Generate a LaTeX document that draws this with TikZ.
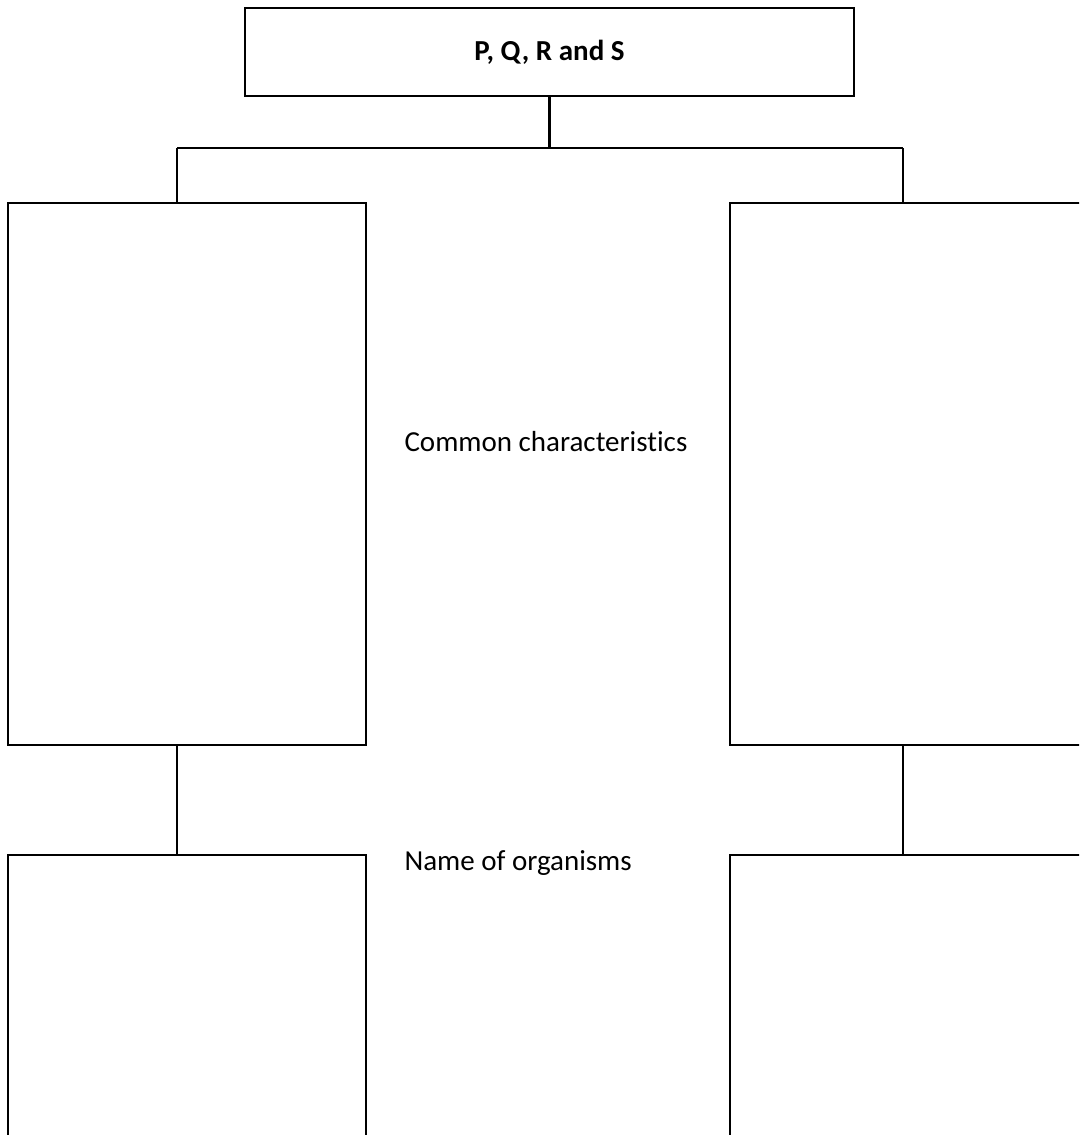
\documentclass[tikz,border=0pt]{standalone}
\usepackage{fontspec}
\setmainfont[RawFeature={-liga}]{Carlito}
\usepackage{tikz}

\begin{document}
\begin{tikzpicture}[x=1pt, y=-1pt, line width=2.4pt,
  box/.style={draw, rectangle, inner sep=0pt},
  txt/.style={font=\fontsize{29}{34}\selectfont}]
\clip (0,0) rectangle (1079,1135);
\fill[white] (0,0) rectangle (1079,1135);
\node[box, minimum width=609, minimum height=88, txt] (top) at (549.5,52) {\textbf{P, Q, R and S}};
\node[box, minimum width=358, minimum height=542] (lchar) at (187,474) {};
\node[box, minimum width=360, minimum height=542] (rchar) at (910,474) {};
\node[box, minimum width=358, minimum height=300] (lname) at (187,1005) {};
\node[box, minimum width=360, minimum height=300] (rname) at (910,1005) {};
\node[txt, anchor=west] (common) at (400,442) {Common characteristics};
\node[txt, anchor=west] (names) at (400,863) {Name of organisms};
\coordinate (jl) at (177,148);
\coordinate (jr) at (903,148);
\draw (top.south) -- (top.south |- jl);
\draw (jl) -- (jr);
\draw (jl) -- (jl |- lchar.north);
\draw (jr) -- (jr |- rchar.north);
\draw (jl |- lchar.south) -- (jl |- lname.north);
\draw (jr |- rchar.south) -- (jr |- rname.north);
\end{tikzpicture}
\end{document}
